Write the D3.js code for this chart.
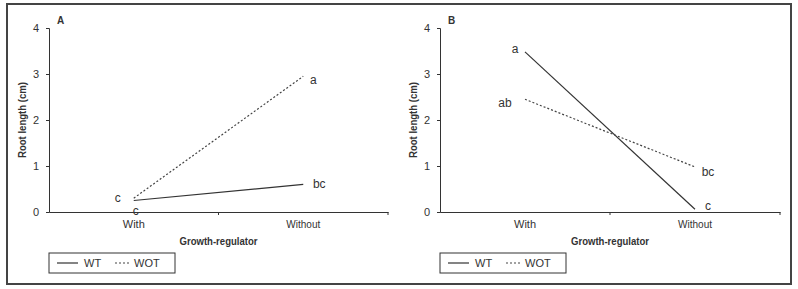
<!DOCTYPE html>
<html>
<head>
<meta charset="utf-8">
<script src="https://cdn.jsdelivr.net/npm/d3@7"></script>
<style>
  body { margin: 0; background: #fff; }
  svg text { font-family: "Liberation Sans Narrow", "Arial Narrow", "Liberation Sans", sans-serif; fill: #333; }
  .axis-label { font-weight: bold; font-size: 11px; }
  .tick text { font-size: 11px; }
</style>
</head>
<body>
<svg width="798" height="289"></svg>
<script>
const svg = d3.select("svg");

const categories = ["With", "Without"];
const yTicks = [0, 1, 2, 3, 4];
const seriesNames = ["WT", "WOT"];

// panel A
const wtA = [0.25, 0.6];
const wotA = [0.3, 2.95];
const lettersWtA = ["c", "bc"];
const lettersWotA = ["c", "a"];

// panel B
const wtB = [3.48, 0.06];
const wotB = [2.45, 0.98];
const lettersWtB = ["a", "c"];
const lettersWotB = ["ab", "bc"];

// outer frame
svg.append('rect')
    .attr('x', 7).attr('y', 4)
    .attr('width', 784).attr('height', 280)
    .attr('fill', 'none')
    .attr('stroke', '#444')
    .attr('stroke-width', 2);

const panel = (opt) => {
    const xScale = d3.scaleBand()
        .domain(categories)
        .range([opt.left, opt.right]);
    const yScale = d3.scaleLinear()
        .domain([0, 4])
        .range([212, 28]);
    const xPos = c => xScale(c) + xScale.bandwidth() / 2;

    const g = svg.append('g');

    const yAxisG = g.append('g')
        .attr('transform', `translate(${opt.left},0)`)
        .call(d3.axisLeft(yScale).tickValues(yTicks).tickFormat(d3.format('d')).tickSize(3).tickSizeOuter(3));
    yAxisG.selectAll('path,line').attr('stroke', '#333');
    yAxisG.selectAll('.tick text').attr('dx', -4);

    const xAxisG = g.append('g')
        .attr('transform', `translate(0,212)`)
        .call(d3.axisBottom(xScale).tickSize(0).tickSizeOuter(0));
    xAxisG.selectAll('path').attr('stroke', '#333');
    xAxisG.selectAll('.tick text').attr('dy', '1.2em')
        .attr('textLength', d => d === 'With' ? 22 : 34)
        .attr('lengthAdjust', 'spacingAndGlyphs');
    // tick between categories and at the right end
    xAxisG.selectAll('.sep').data([xScale('Without'), opt.right])
        .enter().append('line')
        .attr('x1', d => d).attr('x2', d => d)
        .attr('y1', 0).attr('y2', 3)
        .attr('stroke', '#333');

    g.append('text')
        .attr('class', 'axis-label')
        .attr('transform', `translate(${opt.left - 23},120) rotate(-90)`)
        .attr('text-anchor', 'middle')
        .attr('textLength', 76)
        .attr('lengthAdjust', 'spacingAndGlyphs')
        .text('Root length (cm)');

    g.append('text')
        .attr('class', 'axis-label')
        .attr('x', (opt.left + opt.right) / 2)
        .attr('y', 245)
        .attr('text-anchor', 'middle')
        .attr('textLength', 78)
        .attr('lengthAdjust', 'spacingAndGlyphs')
        .text('Growth-regulator');

    g.append('text')
        .attr('class', 'axis-label')
        .attr('x', opt.left + 8)
        .attr('y', 24)
        .style('font-size', '10px')
        .text(opt.name);

    const line = d3.line()
        .x((d, i) => xPos(categories[i]))
        .y(d => yScale(d));

    g.append('path').datum(opt.wt)
        .attr('d', line)
        .attr('fill', 'none')
        .attr('stroke', '#333')
        .attr('stroke-width', 1.2);
    g.append('path').datum(opt.wot)
        .attr('d', line)
        .attr('fill', 'none')
        .attr('stroke', '#444')
        .attr('stroke-width', 1.2)
        .attr('stroke-dasharray', '2,2');

    g.selectAll('.lab').data(opt.labels)
        .enter().append('text')
        .attr('x', d => xPos(categories[d.i]) + d.dx)
        .attr('y', d => yScale(d.v) + d.dy)
        .attr('text-anchor', 'middle')
        .style('font-size', '12px')
        .text(d => d.t);

    // legend
    const lg = g.append('g').attr('transform', `translate(${opt.left},253)`);
    lg.append('rect')
        .attr('width', 126).attr('height', 20)
        .attr('fill', 'none').attr('stroke', '#333');
    lg.append('line').attr('x1', 8).attr('x2', 29).attr('y1', 10).attr('y2', 10)
        .attr('stroke', '#333').attr('stroke-width', 1.2);
    lg.append('text').attr('x', 35).attr('y', 14).style('font-size', '11px').text(seriesNames[0]);
    lg.append('line').attr('x1', 66).attr('x2', 80).attr('y1', 10).attr('y2', 10)
        .attr('stroke', '#444').attr('stroke-width', 1.2).attr('stroke-dasharray', '2,2');
    lg.append('text').attr('x', 85).attr('y', 14).style('font-size', '11px').text(seriesNames[1]);
};

panel({
    name: 'A', left: 49, right: 388, wt: wtA, wot: wotA,
    labels: [
        { i: 0, v: wotA[0], t: lettersWotA[0], dx: -16, dy: 4 },
        { i: 0, v: wtA[0], t: lettersWtA[0], dx: 2, dy: 14 },
        { i: 1, v: wotA[1], t: lettersWotA[1], dx: 10, dy: 8 },
        { i: 1, v: wtA[1], t: lettersWtA[1], dx: 16, dy: 4 }
    ]
});

panel({
    name: 'B', left: 440, right: 780, wt: wtB, wot: wotB,
    labels: [
        { i: 0, v: wtB[0], t: lettersWtB[0], dx: -10, dy: 1 },
        { i: 0, v: wotB[0], t: lettersWotB[0], dx: -20, dy: 8 },
        { i: 1, v: wotB[1], t: lettersWotB[1], dx: 13, dy: 9 },
        { i: 1, v: wtB[1], t: lettersWtB[1], dx: 13, dy: 1 }
    ]
});
</script>
</body>
</html>
